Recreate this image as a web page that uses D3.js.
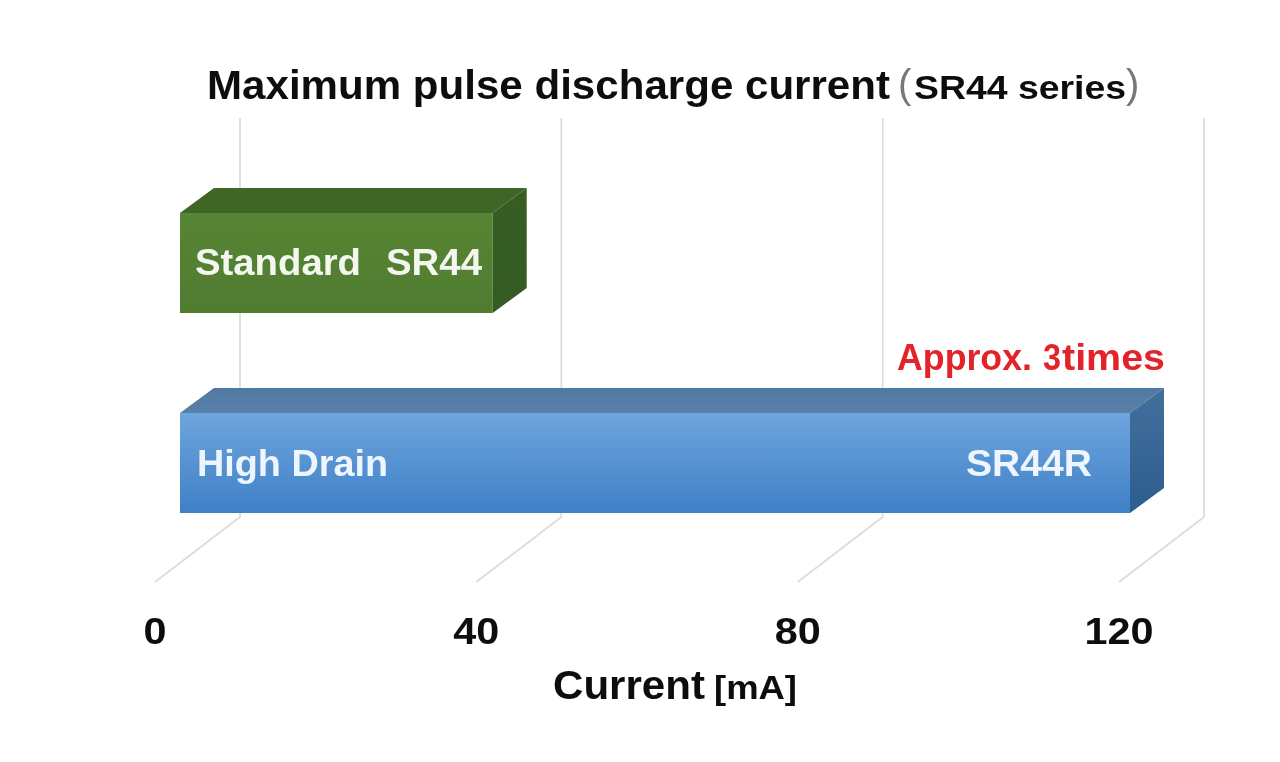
<!DOCTYPE html>
<html><head><meta charset="utf-8">
<script src="https://cdnjs.cloudflare.com/ajax/libs/d3/7.8.5/d3.min.js"></script>
<style>html,body{margin:0;background:#fff}svg{display:block}text{font-family:"Liberation Sans",Arial,sans-serif;font-weight:700}</style>
</head><body><svg id="c" width="1280" height="762"></svg>
<script>
const categories=["Standard","High Drain"];
const models=["SR44","SR44R"];
const values=[39.5,120];
const ticks=[0,40,80,120];
const frontStops=[["#578534","#4f7c2f"],["#6ea5de","#3f80c6"]];
const topStops=[["#3f6628","#3f6628"],["#5078a3","#5a80a8"]];
const sideStops=[["#375c22","#345a20"],["#446f9c","#2b5d8e"]];
const svg=d3.select("#c");
const grid=d3.scaleLinear().domain([0,120]).range([155,1119]);
const x=d3.scaleLinear().domain([0,120]).range([180,1130]);
const y=d3.scaleBand().domain(categories).range([213,513]).paddingInner(0.5).paddingOuter(0);
const dx=34,dy=25,barH=y.bandwidth();
const defs=svg.append("defs");
defs.append("filter").attr("id","soft").attr("x","-5%").attr("y","-5%").attr("width","110%").attr("height","110%")
 .append("feGaussianBlur").attr("stdDeviation",0.6);
const grad=(id,s)=>{const g=defs.append("linearGradient").attr("id",id).attr("x1",0).attr("x2",0).attr("y1",0).attr("y2",1);
 g.append("stop").attr("offset",0).attr("stop-color",s[0]);g.append("stop").attr("offset",1).attr("stop-color",s[1]);};
categories.forEach((c,i)=>{grad("f"+i,frontStops[i]);grad("t"+i,topStops[i]);grad("s"+i,sideStops[i]);});
const root=svg.append("g").attr("filter","url(#soft)");
const gy0=582,gy1=517,gyT=118,gdx=85;
ticks.forEach(t=>{const X=grid(t);
 root.append("path").attr("d",`M${X},${gy0}L${X+gdx},${gy1}L${X+gdx},${gyT}`).attr("fill","none").attr("stroke","#dcdcdc").attr("stroke-width",1.8);});
categories.forEach((c,i)=>{const x0=x(0),x1=x(values[i]),Y=y(c);
 root.append("rect").attr("x",x0).attr("y",Y).attr("width",x1-x0).attr("height",barH).attr("fill",`url(#f${i})`);
 root.append("path").attr("d",`M${x0},${Y}L${x0+dx},${Y-dy}L${x1+dx},${Y-dy}L${x1},${Y}Z`).attr("fill",`url(#t${i})`);
 root.append("path").attr("d",`M${x1},${Y}L${x1+dx},${Y-dy}L${x1+dx},${Y+barH-dy}L${x1},${Y+barH}Z`).attr("fill",`url(#s${i})`);
});
const T=(s,X,Y,size,fill,w,anchor)=>{const t=root.append("text").attr("x",X).attr("y",Y).attr("font-size",size).attr("fill",fill).attr("text-anchor",anchor||"start").text(s);
 if(w)t.attr("textLength",w).attr("lengthAdjust","spacingAndGlyphs");return t;};
T("Maximum pulse discharge current",207,99,41,"#111",683);
T("(",898,98,40,"#777",null).style("font-weight",400);
T("SR44 series",914,99,34,"#111",212);
T(")",1126,98,40,"#777",null).style("font-weight",400);
T("Standard",195,275,37,"#f4f7f0",166);T(models[0],386,275,37,"#f4f7f0",96);
T("High Drain",197,476,37,"#eef5fc",191);T(models[1],966,476,37,"#eef5fc",126);
T("Approx.",897,370,37,"#e3242b",135);T("3",1043,370,37,"#e3242b",18);T("times",1062,370,37,"#e3242b",103);
const tickW={0:23,40:46,80:46,120:69};
ticks.forEach(t=>T(t,grid(t),644,37,"#111",tickW[t],"middle"));
T("Current",553,699,41,"#111",152);T("[mA]",714,699,33,"#111",83);
</script></body></html>
